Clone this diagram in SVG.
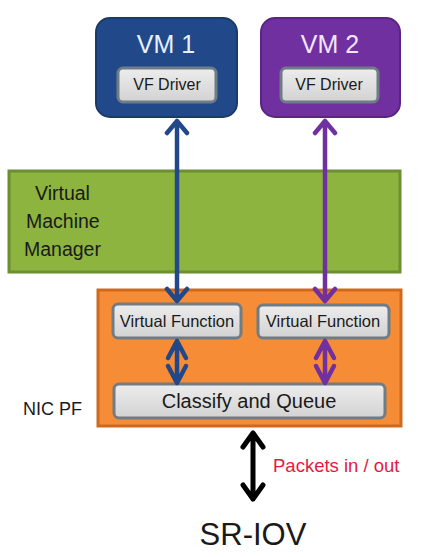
<svg xmlns="http://www.w3.org/2000/svg" width="425" height="557" viewBox="0 0 425 557">
<defs>
<linearGradient id="gbox" x1="0" y1="0" x2="0" y2="1">
<stop offset="0" stop-color="#EDEDED"/>
<stop offset="1" stop-color="#D2D2D2"/>
</linearGradient>
</defs>
<style>
text{font-family:"Liberation Sans",Arial,sans-serif}
.gray{fill:url(#gbox);stroke:#6F7C86;stroke-width:3}
.lbl{fill:#1a1a1a}
.arr{fill:none;stroke-width:4.5;stroke-linejoin:round;stroke-linecap:round}
.blue{stroke:#22488A}
.purple{stroke:#7030A0}
.black{stroke:#000;stroke-width:5}
</style>
<rect width="425" height="557" fill="#fff"/>
<g id="vm1">
<rect x="96" y="18" width="141" height="99" rx="14" fill="#21498A" stroke="#1A3A6E" stroke-width="2"/>
<text x="166" y="53" font-size="25" fill="#E6F0FF" text-anchor="middle">VM 1</text>
<g id="vfdriver1">
<rect class="gray" x="118" y="68" width="98" height="34" rx="5"/>
<text class="lbl" x="167" y="90" font-size="16" text-anchor="middle">VF Driver</text>
</g>
</g>
<g id="vm2">
<rect x="261" y="18" width="139" height="99" rx="14" fill="#7030A0" stroke="#5A2485" stroke-width="2"/>
<text x="330" y="53" font-size="25" fill="#F3E6FF" text-anchor="middle">VM 2</text>
<g id="vfdriver2">
<rect class="gray" x="281" y="68" width="97" height="34" rx="5"/>
<text class="lbl" x="329" y="90" font-size="16" text-anchor="middle">VF Driver</text>
</g>
</g>
<g id="vmm">
<rect x="9" y="171" width="391" height="101" fill="#8CB43E" stroke="#6D8E32" stroke-width="3"/>
<text class="lbl" x="35" y="200" font-size="19.5">Virtual</text>
<text class="lbl" x="26" y="228" font-size="19.5">Machine</text>
<text class="lbl" x="24" y="256" font-size="19.5">Manager</text>
</g>
<g id="nicpf">
<rect x="98" y="290" width="303" height="136" fill="#F68C35" stroke="#CF6A1D" stroke-width="3"/>
<g id="vf1">
<rect class="gray" x="113" y="304" width="128" height="34" rx="5"/>
<text class="lbl" x="177" y="327" font-size="16.5" text-anchor="middle">Virtual Function</text>
</g>
<g id="vf2">
<rect class="gray" x="258" y="305" width="131" height="33" rx="5"/>
<text class="lbl" x="323" y="327" font-size="16.5" text-anchor="middle">Virtual Function</text>
</g>
<g id="classify">
<rect class="gray" x="114" y="384" width="271" height="34" rx="5"/>
<text class="lbl" x="249" y="408" font-size="20" text-anchor="middle">Classify and Queue</text>
</g>
</g>
<text id="nicpf-label" class="lbl" x="23" y="415" font-size="18">NIC PF</text>
<g id="connectors">
<path class="arr blue" d="M177,121 V301 M167,133 L177,121 L187,133 M167,289 L177,301 L187,289"/>
<path class="arr purple" d="M325,121 V301 M315,133 L325,121 L335,133 M315,289 L325,301 L335,289"/>
<path class="arr blue" d="M177,341 V383 M168,358 L177,341 L186,358 M168,366 L177,383 L186,366"/>
<path class="arr purple" d="M325,341 V383 M316,358 L325,341 L334,358 M316,366 L325,383 L334,366"/>
<path class="arr black" d="M253,433 V499 M243,447 L253,433 L263,447 M243,485 L253,499 L263,485"/>
</g>
<text id="packets" x="273" y="472" font-size="18.5" fill="#E31B3E">Packets in / out</text>
<text id="title" class="lbl" x="253" y="545" font-size="31" text-anchor="middle">SR-IOV</text>
</svg>
